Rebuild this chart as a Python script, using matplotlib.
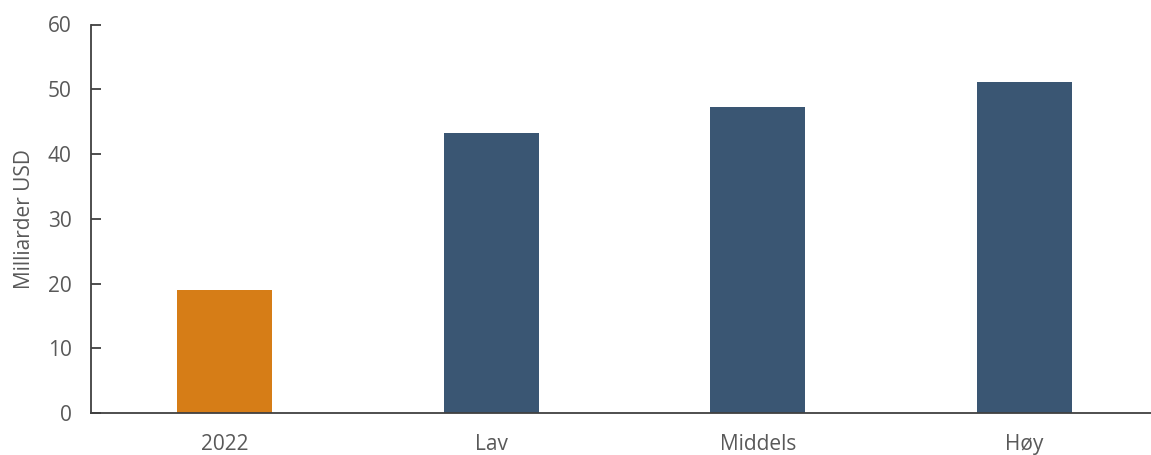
import matplotlib; matplotlib.use('Agg')
import matplotlib.pyplot as plt

categories = ['2022', 'Lav', 'Middels', 'Høy']
values = [19.0, 43.3, 47.2, 51.1]
bar_colors = ['#D67D17', '#3A5673', '#3A5673', '#3A5673']
yticks = [0, 10, 20, 30, 40, 50, 60]

plt.rcParams['font.family'] = ['Open Sans', 'DejaVu Sans']
txt = '#595959'

fig = plt.figure(figsize=(11.51, 4.55), dpi=100)
# axes: left edge at x=91px, y from 413px (0) up to 24.5px (60)
ax = fig.add_axes([91 / 1151, (455 - 413) / 455, (1158 - 91) / 1151, (413 - 24.5) / 455])

x = range(len(categories))
ax.bar(x, values, width=0.356, color=bar_colors, zorder=2)

ax.set_xlim(-0.5, 3.5)
ax.set_ylim(0, 60)
ax.set_yticks(yticks)
ax.set_xticks(list(x))
ax.set_xticklabels(categories)

for s in ['top', 'right']:
    ax.spines[s].set_visible(False)
for s in ['left', 'bottom']:
    ax.spines[s].set_color('#404040')
    ax.spines[s].set_linewidth(1.3)

ax.tick_params(axis='y', direction='in', length=7, width=1.3, color='#404040',
               labelsize=15, labelcolor=txt, pad=14)
ax.tick_params(axis='x', length=0, labelsize=15, labelcolor=txt, pad=15)
ax.set_ylabel('Milliarder USD', fontsize=15, color=txt, labelpad=9)

fig.savefig('out.png', dpi=100)
